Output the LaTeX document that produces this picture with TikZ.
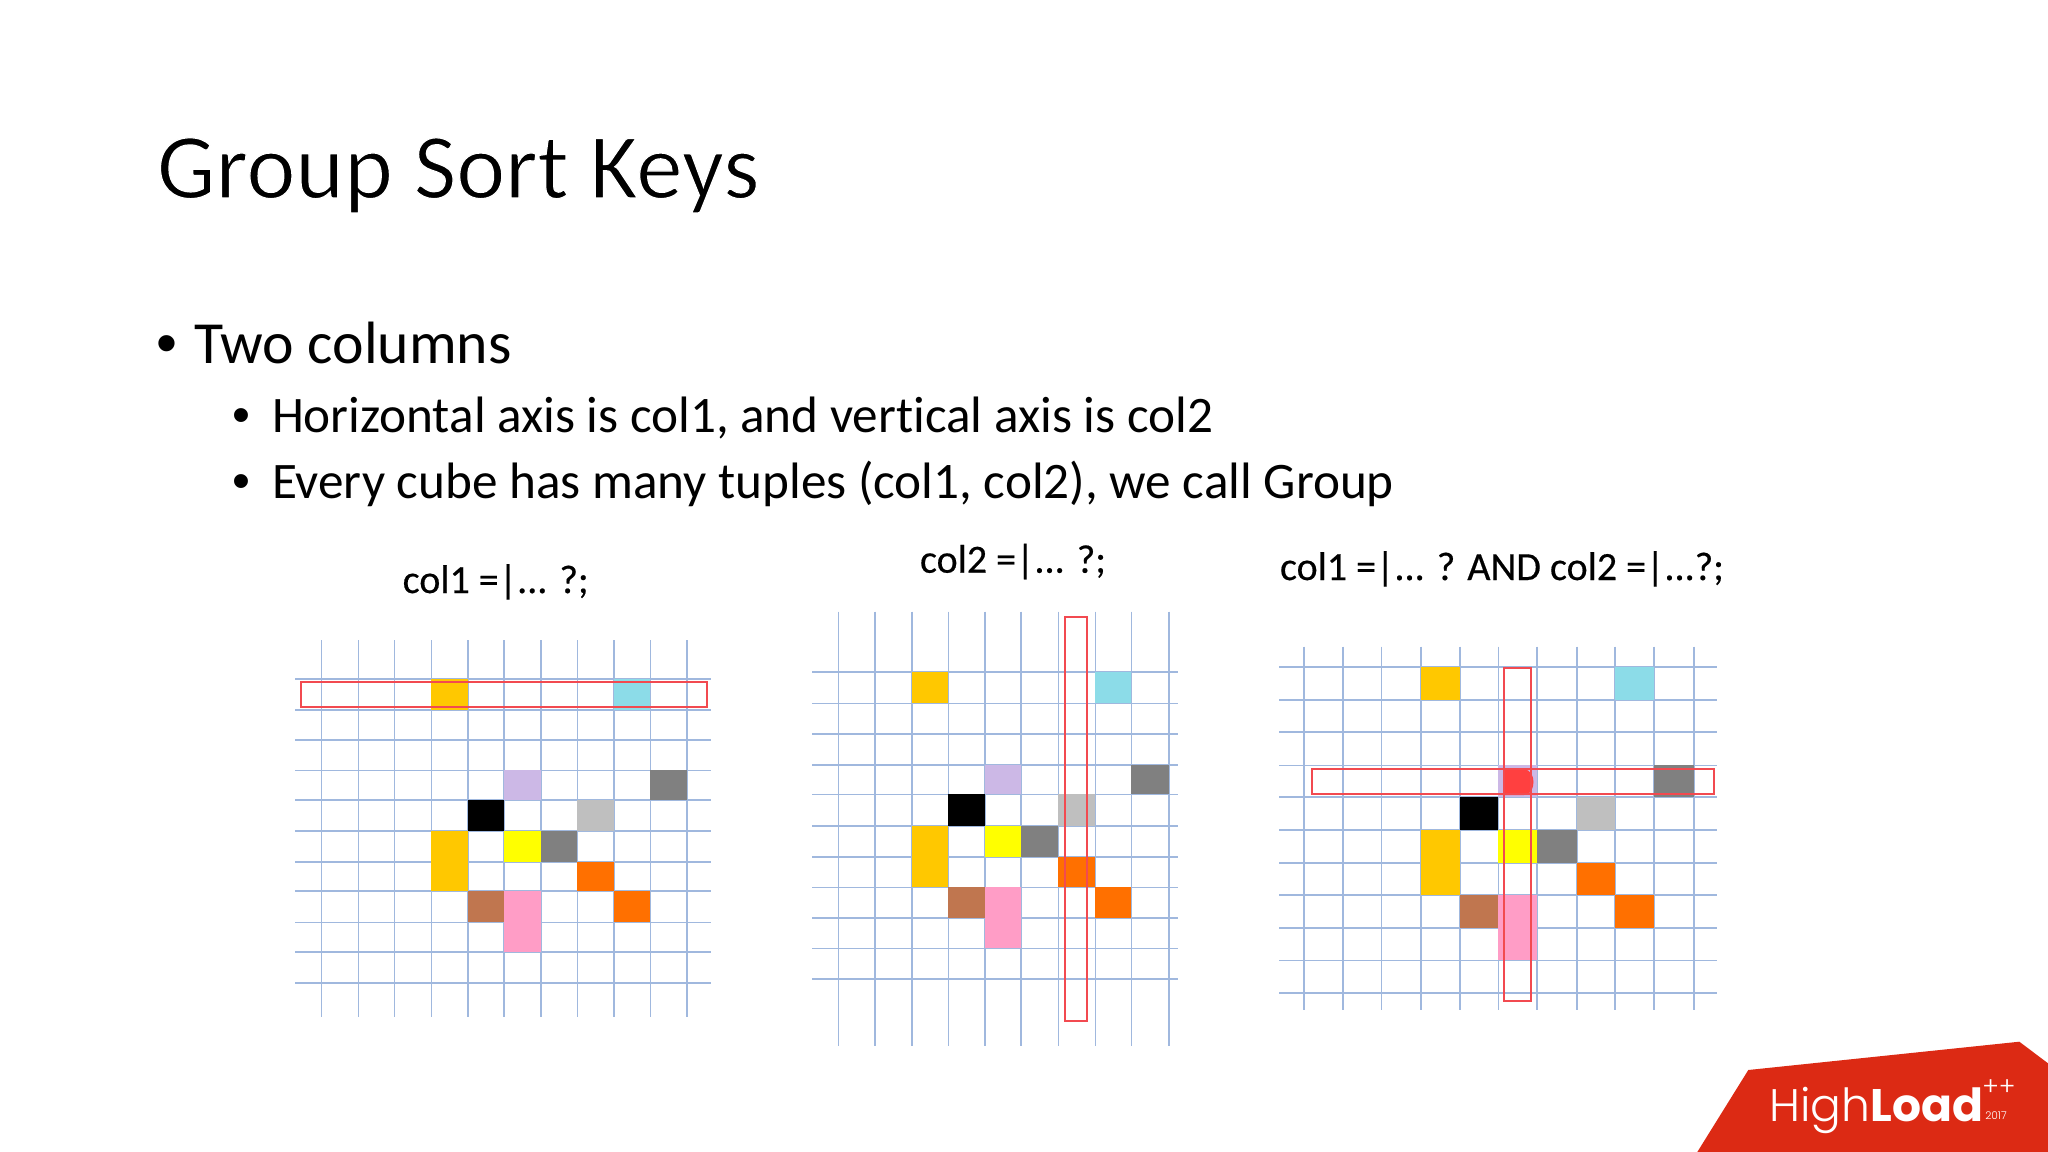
\documentclass[tikz,border=0pt]{standalone}
\usepackage{fontspec}
\setmainfont{Carlito}[Ligatures=NoCommon]
\newfontfamily\labfont{Carlito}[Ligatures=NoCommon,FakeBold=0.4]
\newfontfamily\bulletfont{Liberation Sans}
\newfontfamily\hlfont{Poppins}[UprightFont={* Light},BoldFont={* Bold}]
\definecolor{gridline}{HTML}{A0B8DE}
\definecolor{selred}{HTML}{F24A50}
\definecolor{blobred}{HTML}{FF4040}
\definecolor{logored}{HTML}{DC2A14}
\definecolor{camber}{HTML}{FFC800}
\definecolor{ccyan}{HTML}{8CDCE8}
\definecolor{cpurple}{HTML}{CCB8E6}
\definecolor{cgray}{HTML}{808080}
\definecolor{clight}{HTML}{BFBFBF}
\definecolor{cyellow}{HTML}{FFFF00}
\definecolor{corange}{HTML}{FF7000}
\definecolor{cbrown}{HTML}{C0764F}
\definecolor{cpink}{HTML}{FF9DC6}
\newcommand{\thinned}[1]{\special{pdf:code q 2 Tr 1 1 1 RG 0.9 w}#1\special{pdf:code Q}}
\tikzset{
  txt/.style={anchor=base west,inner sep=0pt,outer sep=0pt,text=black},
  gridrule/.style={draw=gridline,line width=1.2pt},
  selbox/.style={draw=selred,line width=1.5pt},
  lab/.style={anchor=base west,inner sep=0pt,outer sep=0pt,text=black,font=\labfont\fontsize{30}{30}\selectfont}
}
% #1 v array, #2 h array, #3 first v line drawn, #4 x range a, #5 x range b, #6 y range a, #7 y range b
\newcommand{\cubegrid}[7]{%
  \def\vx{{#1}}\def\hy{{#2}}%
  \foreach \i in {#3,...,10}{\pgfmathsetmacro\xx{\vx[\i]}\draw[gridrule] (\xx,#6) -- (\xx,#7);}
  \foreach \j in {0,...,10}{\pgfmathsetmacro\yy{\hy[\j]}\draw[gridrule] (#4,\yy) -- (#5,\yy);}
  \foreach \c/\r/\k in {3/0/camber,8/0/ccyan,5/3/cpurple,9/3/cgray,4/4/black,7/4/clight,3/5/camber,5/5/cyellow,6/5/cgray,3/6/camber,7/6/corange,4/7/cbrown,5/7/cpink,8/7/corange,5/8/cpink}{%
    \pgfmathsetmacro\xa{\vx[\c]}\pgfmathsetmacro\xb{\vx[\c+1]}%
    \pgfmathsetmacro\ya{\hy[\r]}\pgfmathsetmacro\yb{\hy[\r+1]}%
    \fill[\k] (\xa,\ya) rectangle (\xb,\yb);}
}
\begin{document}
\begin{tikzpicture}[x=0.75pt,y=-0.75pt]
\useasboundingbox (0,0) rectangle (2048,1152);
\fill[white] (0,0) rectangle (2048,1152);

\node[txt,font=\fontsize{69.6}{69.6}\selectfont] (title) at (157,198) {\thinned{Group Sort Keys}};
\node[txt,font=\bulletfont\fontsize{44.8}{44.8}\selectfont] (b1) at (156,363) {•};
\node[txt,font=\fontsize{44.8}{44.8}\selectfont] (t1) at (194,363) {Two columns};
\node[txt,font=\bulletfont\fontsize{38.4}{38.4}\selectfont] (b2) at (232.6,432) {•};
\node[txt,font=\fontsize{38.4}{38.4}\selectfont] (t2) at (272,432) {Horizontal axis is col1, and vertical axis is col2};
\node[txt,font=\bulletfont\fontsize{38.4}{38.4}\selectfont] (b3) at (232.6,498) {•};
\node[txt,font=\fontsize{38.4}{38.4}\selectfont] (t3) at (272,498) {Every cube has many tuples (col1, col2), we call Group};

\node[lab] (l1) at (402.7,593) {col1 =|... ?;};
\node[lab] (l2) at (920,572.7) {col2 =|... ?;};
\node[lab] (l3) at (1280,580) {col1 =|... ? AND col2 =|...?;};

% grid one
\cubegrid{321.3,358.3,394.3,431.3,468,503.7,540.7,577.3,613.7,650.3,687}{679,710,740,770.3,800,831,861.7,891,922.3,952,982.7}{0}{295}{710.7}{640}{1016.7}
\draw[selbox] (300.7,681.7) rectangle (706.7,706.7);

% grid two
\cubegrid{802,838.3,874.7,912,948.3,985,1021,1058.3,1095.3,1131.3,1168.7}{672,703.3,733.7,764.7,794.3,826,857,887.3,918,948.3,979}{1}{812.3}{1177.7}{611.7}{1045.7}
\draw[selbox] (1065,616.7) rectangle (1087.3,1021);

% grid three
\cubegrid{1303.7,1342.7,1381.3,1421,1460,1498.3,1536.7,1576.7,1615,1653.7,1693.7}{666.7,700,732,765.3,797,830,862.7,895,928,960.3,992.7}{0}{1279.3}{1717}{646.7}{1010}
\fill[blobred] (1503.7,769.3) -- (1524,769.3) to[out=0,in=90] (1533.5,782) to[out=-90,in=0] (1524,795) -- (1503.7,795) -- cycle;
\draw[selbox] (1312.3,769.3) rectangle (1714,794.3);
\draw[selbox] (1503.7,668.3) rectangle (1530.7,1000.7);

% logo
\fill[logored] (1748.3,1070) -- (2019.3,1041.7) -- (2048,1063.3) -- (2048,1152) -- (1697.3,1152) -- cycle;
\node[anchor=base west,inner sep=0pt,text=white,font=\hlfont\fontsize{34.2}{34.2}\selectfont] (hl) at (1769,1121.7) {High\textbf{Load}};
\node[anchor=base west,inner sep=0pt,text=white,font=\hlfont\fontsize{19}{19}\selectfont] (pp) at (1982,1095) {++};
\node[anchor=base west,inner sep=0pt,text=white,font=\hlfont\fontsize{8}{8}\selectfont] (yr) at (1985,1119.5) {2017};
\end{tikzpicture}
\end{document}
